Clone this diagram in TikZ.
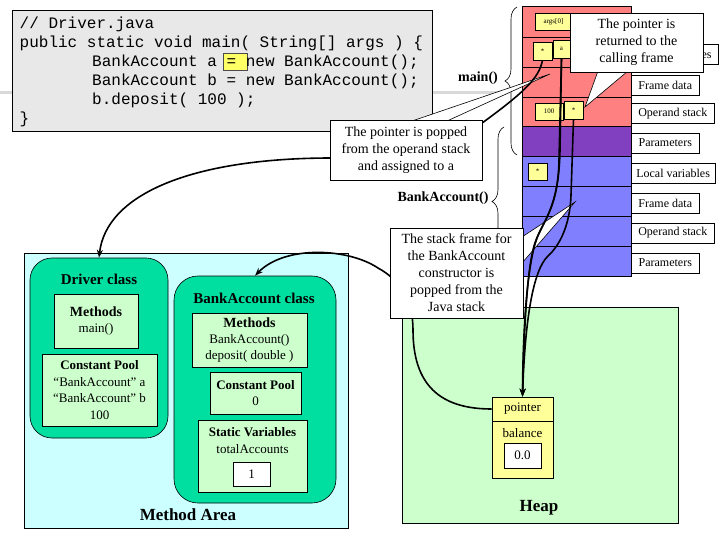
\documentclass[tikz,border=0pt]{standalone}
\usepackage{fontspec}
\setmainfont{Liberation Serif}
\newfontfamily\codefont{Liberation Mono}
\usetikzlibrary{arrows.meta,decorations.pathreplacing}
\definecolor{codegray}{HTML}{E8E8E8}
\definecolor{hlyellow}{HTML}{FFFF66}
\definecolor{stackred}{HTML}{FF8080}
\definecolor{stackpurple}{HTML}{8040C0}
\definecolor{stackblue}{HTML}{8080FF}
\definecolor{ptryellow}{HTML}{FFFF99}
\definecolor{methodcyan}{HTML}{CCFFFF}
\definecolor{classgreen}{HTML}{00DFA0}
\definecolor{palegreen}{HTML}{CCFFCC}
\begin{document}
\begin{tikzpicture}[x=1pt,y=-1pt,
  box/.style={draw=black, line width=0.6pt, inner sep=0pt, align=center, font=\fontsize{13}{16.4}\selectfont},
  lbl/.style={draw=black, fill=white, line width=0.6pt, anchor=west, minimum height=20pt, inner xsep=5pt, inner ysep=0pt, font=\fontsize{12}{14}\selectfont},
  sbox/.style={draw=black, fill=ptryellow, line width=0.5pt, inner sep=0pt, font=\fontsize{7}{8}\selectfont},
  stackrow/.style={draw=black, line width=0.6pt, minimum width=109pt, inner sep=0pt},
  callout/.style={draw=black, fill=white, line width=0.6pt, align=center, inner sep=0pt, font=\fontsize{14}{17}\selectfont},
  wedge/.style={draw=black, fill=white, line width=0.6pt},
  conn/.style={line width=1.6pt, -{Stealth[length=8pt,width=6pt]}},
  codeline/.style={anchor=base west, inner sep=0pt, font=\codefont\fontsize{16}{19}\selectfont},
  title/.style={font=\bfseries\fontsize{15}{17}\selectfont, inner sep=0pt},
  bigtitle/.style={font=\bfseries\fontsize{17}{19}\selectfont, inner sep=0pt},
  framelabel/.style={font=\bfseries\fontsize{14}{16}\selectfont, inner sep=0pt},
  bracestyle/.style={line width=0.6pt, decorate, decoration={brace, amplitude=12pt}}
]
\useasboundingbox (0,0) rectangle (720,540);
\fill[white] (0,0) rectangle (720,540);
\draw[line width=3pt, black!15] (0,93) -- (505,93);

% ---- code box ----
\node[draw=black, line width=0.6pt, fill=codegray, minimum width=420pt, minimum height=121pt, inner sep=0pt] (code) at (222,70.5) {};
\node[draw=black!70, fill=hlyellow, minimum width=24pt, minimum height=17pt, inner sep=0pt] (hl) at (235,61.5) {};
\node[codeline] (l1) at (19.5,28.5) {// Driver.java};
\node[codeline] (l2) at (19.5,47.5) {public static void main( String[] args ) \{};
\node[codeline] (l3) at (92,66.5) {BankAccount a = new BankAccount();};
\node[codeline] (l4) at (92,85.5) {BankAccount b = new BankAccount();};
\node[codeline] (l5) at (92,104.5) {b.deposit( 100 );};
\node[codeline] (l6) at (19.5,123.5) {\}};

% ---- method area ----
\node[draw=black, line width=0.6pt, fill=methodcyan, minimum width=324pt, minimum height=275pt, inner sep=0pt] (marea) at (186,390.5) {};
\node[bigtitle] (mareat) at (188,515) {Method Area};
\node[draw=black, line width=0.6pt, fill=classgreen, rounded corners=22pt, minimum width=138pt, minimum height=180pt, inner sep=0pt] (driver) at (99,348) {};
\node[title] (drivert) at (99,279) {Driver class};
\node[box, fill=palegreen, minimum width=84pt, minimum height=54pt] (dmeth) at (96,321) {{\bfseries\fontsize{14}{16.4}\selectfont Methods}\\main()};
\node[box, fill=palegreen, minimum width=115pt, minimum height=72pt] (dpool) at (99.5,390) {{\bfseries Constant Pool}\\“BankAccount” a\\“BankAccount” b\\100};
\node[draw=black, line width=0.6pt, fill=classgreen, rounded corners=24pt, minimum width=162pt, minimum height=227pt, inner sep=0pt] (bacls) at (255,389.5) {};
\node[title] (baclst) at (254,298) {BankAccount class};
\node[box, fill=palegreen, minimum width=115pt, minimum height=54pt] (bmeth) at (249.5,340) {{\bfseries\fontsize{14}{16.4}\selectfont Methods}\\BankAccount()\\deposit( double )};
\node[box, fill=palegreen, minimum width=91pt, minimum height=42pt] (bpool) at (255.5,393) {{\bfseries Constant Pool}\\0};
\node[box, fill=palegreen, minimum width=109pt, minimum height=72pt] (bstat) at (252.5,456) {};
\node[inner sep=0pt, align=center, font=\fontsize{13}{16.4}\selectfont] (bstatt) at (252.5,440.5) {{\bfseries Static Variables}\\totalAccounts};
\node[box, fill=white, minimum width=37pt, minimum height=24pt] (one) at (251.5,474) {1};

% ---- heap ----
\node[draw=black, line width=0.6pt, fill=palegreen, minimum width=276pt, minimum height=216pt, inner sep=0pt] (heap) at (540,415) {};
\node[bigtitle] (heapt) at (539,508) {Heap};
\node[box, fill=ptryellow, minimum width=61pt, minimum height=24pt] (ptr) at (522.5,409) {pointer};
\node[box, fill=ptryellow, minimum width=61pt, minimum height=57pt] (bal) at (522.5,449.5) {};
\node[inner sep=0pt, font=\fontsize{13}{15}\selectfont] (balt) at (522.5,433) {balance};
\node[box, fill=white, minimum width=37pt, minimum height=25pt] (zero) at (522.5,455.5) {0.0};

% ---- java stack ----
\node[stackrow, fill=stackred, minimum height=31pt] (r1) at (576.5,21.5) {};
\node[stackrow, fill=stackred, minimum height=30pt] (r2) at (576.5,52) {};
\node[stackrow, fill=stackred, minimum height=30pt] (r3) at (576.5,82) {};
\node[stackrow, fill=stackred, minimum height=29pt] (r4) at (576.5,111.5) {};
\node[stackrow, fill=stackpurple, minimum height=30pt] (r5) at (576.5,141) {};
\node[stackrow, fill=stackblue, minimum height=30pt] (r6) at (576.5,171) {};
\node[stackrow, fill=stackblue, minimum height=30pt] (r7) at (576.5,201) {};
\node[stackrow, fill=stackblue, minimum height=30pt] (r8) at (576.5,231) {};
\node[stackrow, fill=stackblue, minimum height=30pt] (r9) at (576.5,261) {};

\node[lbl, minimum width=87pt] (lv1) at (631,54.5) {Local variables};
\node[lbl, minimum width=68pt] (fd1) at (631,85) {Frame data};
\node[lbl, minimum width=83pt] (os1) at (631,113.5) {Operand stack};
\node[lbl, minimum width=68pt] (pa1) at (631,143) {Parameters};
\node[lbl, minimum width=83pt] (lv2) at (631,173) {Local variables};
\node[lbl, minimum width=68pt] (fd2) at (631,203) {Frame data};
\node[lbl, minimum width=83pt] (os2) at (631,233) {Operand stack};
\node[lbl, minimum width=68pt] (pa2) at (631,263) {Parameters};

\node[sbox, minimum width=37pt, minimum height=17pt] (args) at (553.5,21.5) {args[0]};
\node[sbox, minimum width=19pt, minimum height=18pt] (mstar) at (542.5,51) {*};
\node[sbox, minimum width=17pt, minimum height=18pt] (abox) at (561.5,49) {a};
\node[sbox, minimum width=28pt, minimum height=17pt] (b100) at (549,111.5) {100};
\node[sbox, minimum width=19pt, minimum height=18pt] (ostar) at (573.5,110) {*};
\node[sbox, minimum width=19pt, minimum height=17pt] (bstar) at (537.5,171.5) {*};

\draw[bracestyle] (517,155) -- (517,7);
\node[framelabel] (mainl) at (478,78) {main()};
\draw[bracestyle] (504,276) -- (504,127);
\node[framelabel] (bal2) at (443,198) {BankAccount()};

% ---- callout wedges ----
\draw[wedge] (412,121) -- (550,74) -- (447,121) -- cycle;
\draw[wedge] (522,237) -- (575,202) -- (522,263) -- cycle;

% ---- connectors ----
\draw[conn] (mstar.south) .. controls (539,78) and (525,92) .. (478,126) -- (332,158) .. controls (190,158) and (106,195) .. (driver.north);
\draw[conn] (ptr.west) .. controls (440,409) and (413,385) .. (413,330) .. controls (413,300) and (400,280) .. (378,268) .. controls (348,248) and (285,245) .. (bacls.north);
\draw[conn] (abox.south) -- (560,150) .. controls (559,205) and (545,218) .. (537,238) .. controls (528,262) and (523,320) .. (ptr.north);
\draw[conn] (abox.south) -- (559,160) .. controls (558,212) and (541,222) .. (534,246) .. controls (527,270) and (524,330) .. (ptr.north);
\draw[conn] (ostar.south) -- (571,195) .. controls (570,225) and (560,245) .. (548,256) .. controls (533,270) and (525,320) .. (ptr.north);

% ---- callout boxes ----
\node[callout, minimum width=152pt, minimum height=60pt] (co1) at (406,150) {The pointer is popped\\from the operand stack\\and assigned to a};
\node[callout, minimum width=133pt, minimum height=90pt] (co3) at (456.5,273) {The stack frame for\\the BankAccount\\constructor is\\popped from the\\Java stack};
\draw[wedge] (598,71) -- (585,107) -- (628,71) -- cycle;
\node[callout, minimum width=133pt, minimum height=59pt] (co2) at (636.5,42.5) {The pointer is\\returned to the\\calling frame};
\end{tikzpicture}
\end{document}
